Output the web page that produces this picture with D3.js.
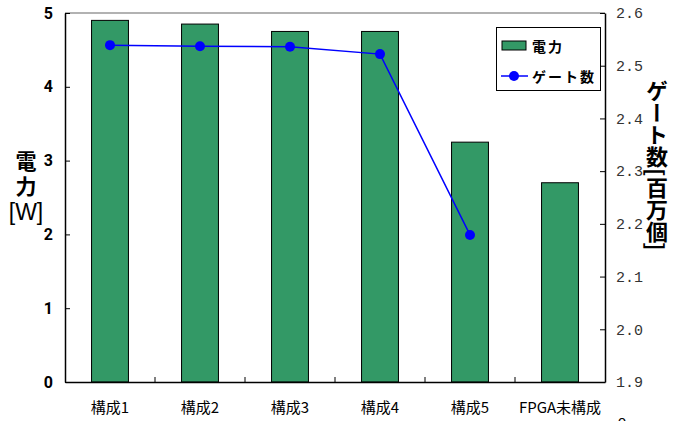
<!DOCTYPE html>
<html>
<head>
<meta charset="utf-8">
<script src="https://cdn.jsdelivr.net/npm/d3@7"></script>
<style>
  body { margin: 0; background: #fff; }
  svg { display: block; }
</style>
</head>
<body>
<div id="graph"></div>
<script>
// data
const categories = ["構成1", "構成2", "構成3", "構成4", "構成5", "FPGA未構成"];
const power = [4.9, 4.85, 4.75, 4.75, 3.25, 2.7];          // 電力 [W]
const gates = [2.539, 2.537, 2.536, 2.522, 2.179, null];   // ゲート数 [百万個]
const leftTicks = [0, 1, 2, 3, 4, 5];
const rightTicks = [1.9, 2.0, 2.1, 2.2, 2.3, 2.4, 2.5, 2.6];

const W = 673, H = 421;
const plot = {left: 65, right: 605, top: 13, bottom: 382};
const jp = "'Noto Sans CJK JP', sans-serif";

const svg = d3.select("#graph")
  .append("svg")
    .attr("width", W)
    .attr("height", H);

// scales
const x = d3.scaleBand()
  .domain(categories)
  .range([plot.left, plot.right])
  .paddingInner(0.59)
  .paddingOuter(0.295);

const y = d3.scaleLinear()
  .domain([0, 5])
  .range([plot.bottom, plot.top]);

const y2 = d3.scaleLinear()
  .domain([1.9, 2.6])
  .range([plot.bottom, plot.top]);

// top frame line (grey)
svg.append("line")
  .attr("x1", plot.left).attr("x2", plot.right)
  .attr("y1", plot.top).attr("y2", plot.top)
  .attr("stroke", "#999").attr("stroke-width", 1.5);

// bars
svg.selectAll("rect.bar")
  .data(power)
  .join("rect")
    .attr("class", "bar")
    .attr("x", (d, i) => x(categories[i]))
    .attr("y", d => y(d))
    .attr("width", x.bandwidth())
    .attr("height", d => y(0) - y(d))
    .attr("fill", "#339966")
    .attr("stroke", "#000")
    .attr("stroke-width", 1);

// left axis
const yAxis = svg.append("g")
  .attr("transform", `translate(${plot.left},0)`)
  .call(d3.axisLeft(y).tickValues(leftTicks).tickSize(-5).tickSizeOuter(0).tickPadding(12)
    .tickFormat(d3.format("d")));
yAxis.select(".domain").attr("stroke", "#000").attr("stroke-width", 1.5);
yAxis.selectAll("text")
  .attr("font-family", "'Liberation Sans Narrow', 'Roboto', sans-serif")
  .attr("font-weight", "bold")
  .attr("font-size", 16)
  .attr("fill", "#000");

// right axis
const yAxis2 = svg.append("g")
  .attr("transform", `translate(${plot.right},0)`)
  .call(d3.axisRight(y2).tickValues(rightTicks).tickSize(-5).tickSizeOuter(0).tickPadding(11)
    .tickFormat(d3.format(".1f")));
yAxis2.select(".domain").attr("stroke", "#000").attr("stroke-width", 1.5);
yAxis2.selectAll("text")
  .attr("font-family", "'Liberation Mono', monospace")
  .attr("font-size", 15)
  .attr("fill", "#333");

// bottom axis
const xAxis = svg.append("g")
  .attr("transform", `translate(0,${plot.bottom})`)
  .call(d3.axisBottom(x).tickSize(0).tickPadding(20));
xAxis.select(".domain").attr("stroke", "#000").attr("stroke-width", 1.5);
xAxis.selectAll("text")
  .attr("font-family", jp)
  .attr("font-size", 15)
  .attr("fill", "#000");

// small inward ticks between categories
const gap = x.step() - x.bandwidth();
svg.selectAll("line.sep")
  .data(categories.slice(1))
  .join("line")
    .attr("class", "sep")
    .attr("x1", d => x(d) - gap / 2)
    .attr("x2", d => x(d) - gap / 2)
    .attr("y1", plot.bottom)
    .attr("y2", plot.bottom - 5)
    .attr("stroke", "#000");

// gate count line
const pts = gates.map((g, i) => ({c: categories[i], g})).filter(d => d.g != null);
svg.append("path")
  .datum(pts)
  .attr("fill", "none")
  .attr("stroke", "#0000ff")
  .attr("stroke-width", 1.5)
  .attr("d", d3.line().x(d => x(d.c) + x.bandwidth() / 2).y(d => y2(d.g)));
svg.selectAll("circle.pt")
  .data(pts)
  .join("circle")
    .attr("class", "pt")
    .attr("cx", d => x(d.c) + x.bandwidth() / 2)
    .attr("cy", d => y2(d.g))
    .attr("r", 5)
    .attr("fill", "#0000ff");

// left axis title
svg.append("text").text("電")
  .attr("x", 26).attr("y", 169).attr("text-anchor", "middle")
  .attr("font-family", jp).attr("font-weight", "bold").attr("font-size", 21);
svg.append("text").text("力")
  .attr("x", 26).attr("y", 194).attr("text-anchor", "middle")
  .attr("font-family", jp).attr("font-weight", "bold").attr("font-size", 21);
svg.append("text").text("[W]")
  .attr("x", 26).attr("y", 220).attr("text-anchor", "middle")
  .attr("font-family", "'Liberation Sans', sans-serif").attr("font-size", 23);

// right axis title (vertical writing)
svg.append("text").text("ゲート数[百万個]")
  .attr("x", 657).attr("y", 80)
  .attr("font-family", jp).attr("font-weight", "bold").attr("font-size", 22)
  .style("writing-mode", "vertical-rl")
  .style("text-orientation", "mixed");

// legend
const lg = svg.append("g");
lg.append("rect")
  .attr("x", 496.5).attr("y", 27.5).attr("width", 104).attr("height", 63)
  .attr("fill", "#fff").attr("stroke", "#000");
lg.append("rect")
  .attr("x", 502).attr("y", 41).attr("width", 24).attr("height", 9)
  .attr("fill", "#339966").attr("stroke", "#000");
lg.append("line")
  .attr("x1", 501).attr("x2", 528).attr("y1", 76).attr("y2", 76)
  .attr("stroke", "#0000ff").attr("stroke-width", 1.5);
lg.append("circle")
  .attr("cx", 514).attr("cy", 76).attr("r", 5).attr("fill", "#0000ff");
lg.append("text").text("電力")
  .attr("x", 532).attr("y", 52)
  .attr("font-family", jp).attr("font-weight", "bold").attr("font-size", 14)
  .attr("letter-spacing", 2);
lg.append("text").text("ゲート数")
  .attr("x", 532).attr("y", 82)
  .attr("font-family", jp).attr("font-weight", "bold").attr("font-size", 14)
  .attr("letter-spacing", 2);

// stray clipped label at the bottom right
svg.append("text").text("0")
  .attr("x", 622).attr("y", 428).attr("text-anchor", "middle")
  .attr("font-family", "'Liberation Mono', monospace").attr("font-size", 15);
</script>
</body>
</html>
